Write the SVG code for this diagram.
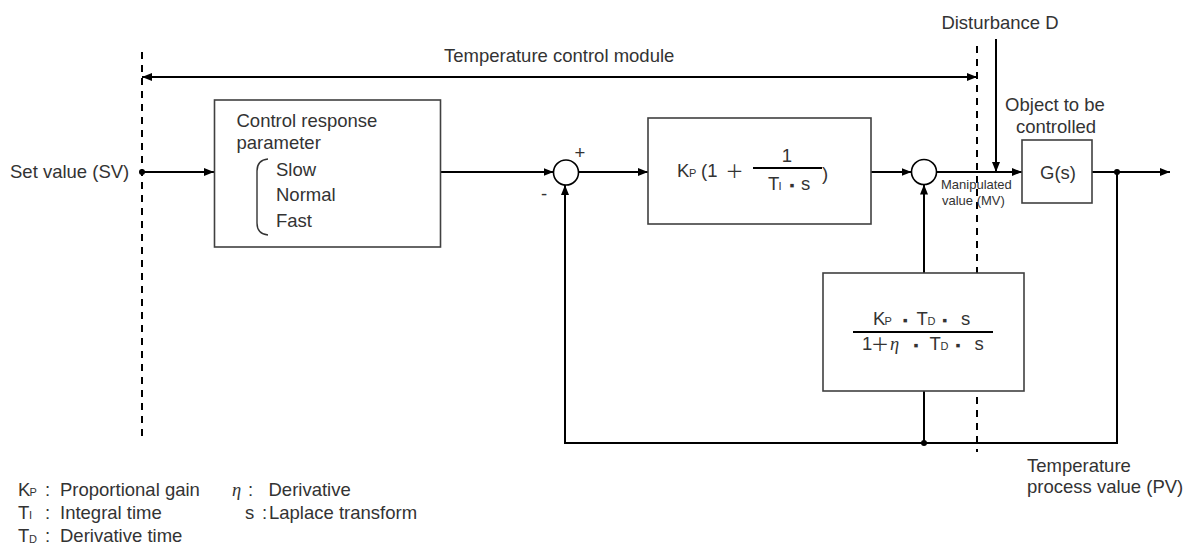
<svg xmlns="http://www.w3.org/2000/svg" width="1191" height="552" viewBox="0 0 1191 552">
<defs>
<style>
text{font-family:"Liberation Sans",Arial,sans-serif;font-size:18.5px;fill:#333}
.sub{font-size:11px}
.sm{font-size:13px}
.dot{font-size:14px;text-anchor:middle}
.mid{text-anchor:middle}
.cjk{font-family:"Noto Sans CJK JP","Liberation Sans",sans-serif;text-anchor:middle}
.eta{font-family:"Liberation Serif",serif;font-style:italic}
.box{fill:#fff;stroke:#404040;stroke-width:1.6}
.ln{fill:none;stroke:#000;stroke-width:2}
.arr{marker-end:url(#ah)}
.dash{fill:none;stroke:#000;stroke-width:2;stroke-dasharray:7 6}
.sum{fill:#fff;stroke:#000;stroke-width:1.6}
</style>
<marker id="ah" viewBox="0 0 10 8" refX="10" refY="4" markerWidth="10" markerHeight="8" markerUnits="userSpaceOnUse" orient="auto-start-reverse">
<path d="M0,0 L10,4 L0,8 z" fill="#000"/>
</marker>
</defs>
<rect width="1191" height="552" fill="#fff"/>

<g id="connectors">
<path class="dash" d="M142,52 V437"/>
<path class="dash" d="M977,46 V452"/>
<path class="ln" d="M142,77 H977" marker-start="url(#ah)" marker-end="url(#ah)"/>
<path class="ln arr" d="M142,172 H214"/>
<path class="ln arr" d="M440,172 H553.5"/>
<path class="ln arr" d="M578.5,172 H648"/>
<path class="ln arr" d="M871,172 H911.5"/>
<path class="ln arr" d="M936.5,172 H1022"/>
<path class="ln arr" d="M1092,172 H1170"/>
<path class="ln arr" d="M996,39 V172"/>
<path class="ln arr" d="M1117,172 V443 H565 V185"/>
<path class="ln" d="M924,443 V391"/>
<path class="ln arr" d="M924,273 V184.5"/>
<circle cx="142" cy="172" r="3"/>
<circle cx="1117" cy="172" r="3"/>
<circle cx="924" cy="443" r="3"/>
</g>

<g id="label-module">
<text x="444" y="62">Temperature control module</text>
</g>
<g id="label-sv">
<text x="10" y="178">Set value (SV)</text>
</g>
<g id="label-disturbance">
<text class="mid" x="1000" y="29">Disturbance D</text>
</g>
<g id="label-mv">
<text class="sm" x="941" y="189">Manipulated</text>
<text class="sm" x="942" y="205">value (MV)</text>
</g>
<g id="label-pv">
<text x="1027" y="472">Temperature</text>
<text x="1027" y="493">process value (PV)</text>
</g>

<g id="node-response">
<rect class="box" x="214.5" y="100" width="226" height="147"/>
<text x="236.5" y="126.5">Control response</text>
<text x="236.5" y="149">parameter</text>
<path d="M268,159 Q257,160 257,171 L257,223 Q257,234 268,235" fill="none" stroke="#333" stroke-width="1.4"/>
<text x="276" y="176">Slow</text>
<text x="276" y="201">Normal</text>
<text x="276" y="226.5">Fast</text>
</g>

<g id="node-sum1">
<circle class="sum" cx="566" cy="172.5" r="12.5"/>
<text class="mid" x="580" y="159">+</text>
<text class="mid" x="544" y="200">-</text>
</g>

<g id="node-pi">
<rect class="box" x="648" y="118" width="223" height="106"/>
<text x="677" y="177">K</text>
<text class="sub" x="689" y="177">P</text>
<text x="701" y="177">(1</text>
<text class="cjk" x="734.5" y="178">＋</text>
<line x1="753" y1="168" x2="822" y2="168" stroke="#000" stroke-width="2"/>
<text class="mid" x="787" y="162">1</text>
<text x="768" y="190">T</text>
<text class="sub" x="778.5" y="190">I</text>
<text class="dot" x="792" y="190">▪</text>
<text x="801" y="190">s</text>
<text x="822" y="180">)</text>
</g>

<g id="node-sum2">
<circle class="sum" cx="924" cy="172" r="12.5"/>
</g>

<g id="node-plant">
<text class="mid" x="1055" y="111">Object to be</text>
<text class="mid" x="1056" y="132.5">controlled</text>
<rect class="box" x="1022" y="140" width="70" height="63"/>
<text class="mid" x="1058" y="179">G(s)</text>
</g>

<g id="node-derivative">
<rect class="box" x="823" y="273" width="201" height="118"/>
<text x="873" y="325">K</text>
<text class="sub" x="884.5" y="325">P</text>
<text class="dot" x="905.3" y="325">▪</text>
<text x="916.5" y="325">T</text>
<text class="sub" x="927.5" y="325">D</text>
<text class="dot" x="944.7" y="325">▪</text>
<text x="961" y="325">s</text>
<line x1="853" y1="332" x2="993" y2="332" stroke="#000" stroke-width="2"/>
<text x="862" y="350">1</text>
<text class="cjk" x="880" y="351">＋</text>
<text class="eta" x="890" y="350">η</text>
<text class="dot" x="916" y="350">▪</text>
<text x="929.5" y="350">T</text>
<text class="sub" x="940.5" y="350">D</text>
<text class="dot" x="958" y="350">▪</text>
<text x="974.5" y="350">s</text>
</g>

<g id="legend">
<text x="18" y="496">K</text>
<text class="sub" x="29.5" y="496">P</text>
<text x="45" y="496">:</text>
<text x="60" y="496">Proportional gain</text>
<text x="18" y="519">T</text>
<text class="sub" x="29" y="519">I</text>
<text x="45" y="519">:</text>
<text x="60" y="519">Integral time</text>
<text x="18" y="542">T</text>
<text class="sub" x="29" y="543">D</text>
<text x="45" y="542">:</text>
<text x="60" y="542">Derivative time</text>
<text class="eta" x="232" y="496">η</text>
<text x="248" y="496">:</text>
<text x="268.5" y="496">Derivative</text>
<text x="245" y="519">s</text>
<text x="262" y="519">:</text>
<text x="269" y="519">Laplace transform</text>
</g>
</svg>
